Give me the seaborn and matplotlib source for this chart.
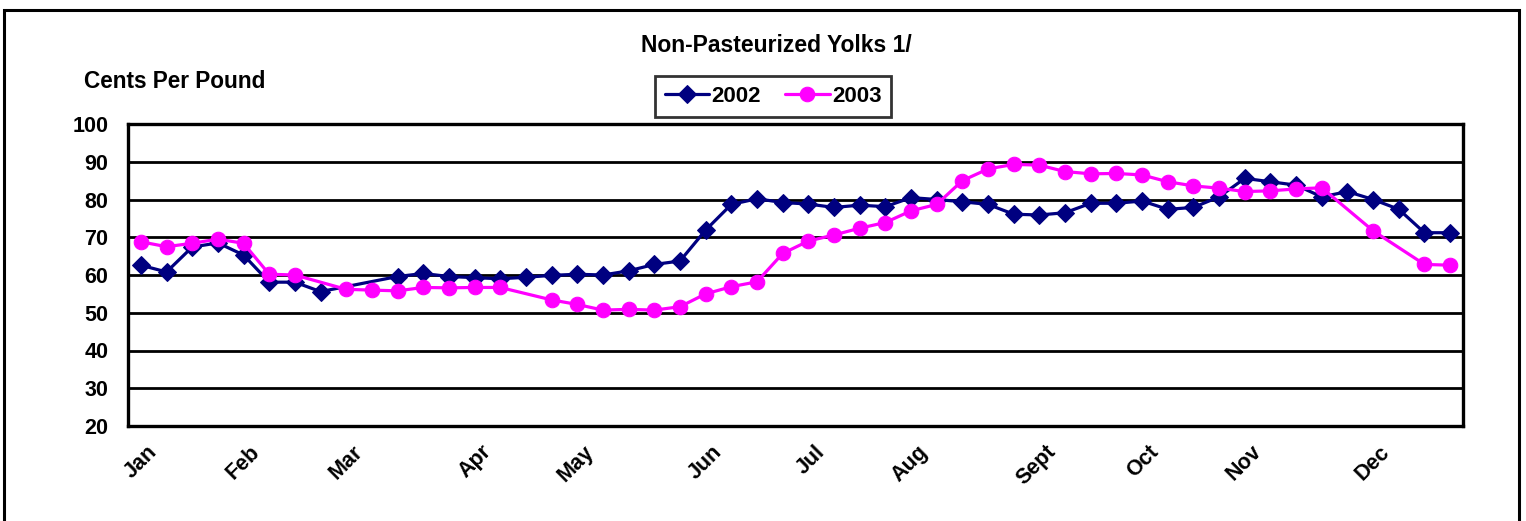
import numpy as np
import pandas as pd
import matplotlib
matplotlib.use("Agg")
import matplotlib.pyplot as plt
import matplotlib.transforms as mtransforms
from matplotlib.patches import Rectangle
import seaborn as sns

# weekly prices, cents per pound (NaN = no marker in the original, line bridges the gap)
weeks = list(range(52))
yolks_2002 = [62.6, 60.8, 67.4, 68.5, 65.3, 58.1, 58.1, 55.6, np.nan, np.nan,
              59.6, 60.4, 59.6, 59.3, 59.0, 59.4, 59.9, 60.2, 60.0, 61.1,
              62.8, 63.7, 71.9, 78.7, 80.2, 79.2, 78.8, 77.9, 78.5, 78.1,
              80.5, 80.0, 79.4, 78.7, 76.1, 75.9, 76.5, 79.0, 79.0, 79.6,
              77.4, 77.9, 80.7, 85.6, 84.7, 83.8, 80.7, 82.1, 80.0, 77.4,
              71.2, 71.2]
yolks_2003 = [68.8, 67.5, 68.4, 69.5, 68.4, 60.2, 60.0, np.nan, 56.2, 56.0,
              55.8, 56.7, 56.6, 56.7, 56.7, np.nan, 53.4, 52.2, 50.7, 50.9,
              50.7, 51.6, 55.0, 56.9, 58.2, 65.7, 69.0, 70.6, 72.4, 73.9,
              77.0, 78.7, 85.0, 88.1, 89.3, 89.1, 87.4, 86.8, 86.9, 86.5,
              84.7, 83.6, 83.0, 82.1, 82.3, 82.8, 83.1, np.nan, 71.7, np.nan,
              62.8, 62.6]
month_labels = ["Jan", "Feb", "Mar", "Apr", "May", "Jun", "Jul", "Aug",
                "Sept", "Oct", "Nov", "Dec"]
month_weeks = [0, 4, 8, 13, 17, 22, 26, 30, 35, 39, 43, 48]

df = pd.concat([
    pd.DataFrame({"week": weeks, "price": yolks_2002, "year": "2002"}),
    pd.DataFrame({"week": weeks, "price": yolks_2003, "year": "2003"}),
]).dropna()

sns.set_style("white")
plt.rcParams["font.family"] = ["Liberation Sans", "DejaVu Sans"]
plt.rcParams["font.weight"] = "bold"
plt.rcParams["text.color"] = "black"
plt.rcParams["xtick.color"] = "black"
plt.rcParams["ytick.color"] = "black"

fig = plt.figure(figsize=(15.26, 5.21), dpi=100)
ax = fig.add_axes([128 / 1526, 1 - 426 / 521, (1463 - 128) / 1526, (426 - 124) / 521])

sns.lineplot(data=df, x="week", y="price", hue="year", style="year",
             palette={"2002": "#000080", "2003": "#FF00FF"},
             markers={"2002": "D", "2003": "o"}, dashes=False,
             linewidth=2.3, errorbar=None, ax=ax)
for line in ax.lines:
    line.set_markeredgecolor(line.get_color())
    line.set_markersize(10.5 if line.get_marker() == "o" else 9)

ax.set_xlim(-0.5, 51.5)
ax.set_ylim(20, 100)
ax.set_yticks(range(20, 101, 10))
ax.yaxis.grid(True, color="black", linewidth=2)
ax.set_axisbelow(True)
ax.set_xlabel("")
ax.set_ylabel("")

ax.set_xticks(month_weeks)
ax.set_xticklabels(month_labels, rotation=45, ha="right", rotation_mode="anchor")
ax.set_xticks(np.arange(0.5, 51.5, 1), minor=True)
ax.tick_params(axis="x", which="major", length=0, pad=11, labelsize=15.5, labelcolor="black")
ax.tick_params(axis="x", which="minor", direction="in", length=4, width=1.8, color="black")
ax.tick_params(axis="y", length=0, pad=14, labelsize=15.5, labelcolor="black")
offset = mtransforms.ScaledTranslation(0.06, 0, fig.dpi_scale_trans)
for lab in ax.get_xticklabels():
    lab.set_transform(lab.get_transform() + offset)

for sp in ax.spines.values():
    sp.set_visible(True)
    sp.set_color("black")
    sp.set_linewidth(2.4)

handles, labels = ax.get_legend_handles_labels()
ax.legend_.remove()
leg = fig.legend(handles, labels, loc="center", bbox_to_anchor=(773 / 1526, 1 - 96.5 / 521),
                 ncol=2, frameon=True, fancybox=False, edgecolor="black",
                 fontsize=16, handlelength=2.0, handletextpad=0.1, columnspacing=1.1,
                 borderpad=0.45)
leg.get_frame().set_linewidth(2)
for t in leg.get_texts():
    t.set_color("black")

fig.text(776 / 1526, 1 - 45 / 521, "Non-Pasteurized Yolks 1/", ha="center", va="center",
         fontsize=16.5, fontweight="bold", color="black")
fig.text(84 / 1526, 1 - 81 / 521, "Cents Per Pound", ha="left", va="center",
         fontsize=16.3, fontweight="bold", color="black")

fig.patches.append(Rectangle((4 / 1526, -0.05), (1519 - 4) / 1526, (521 - 10) / 521 + 0.05,
                             transform=fig.transFigure, fill=False, edgecolor="black",
                             linewidth=2.2, clip_on=False))

fig.savefig("out.png", dpi=100)
